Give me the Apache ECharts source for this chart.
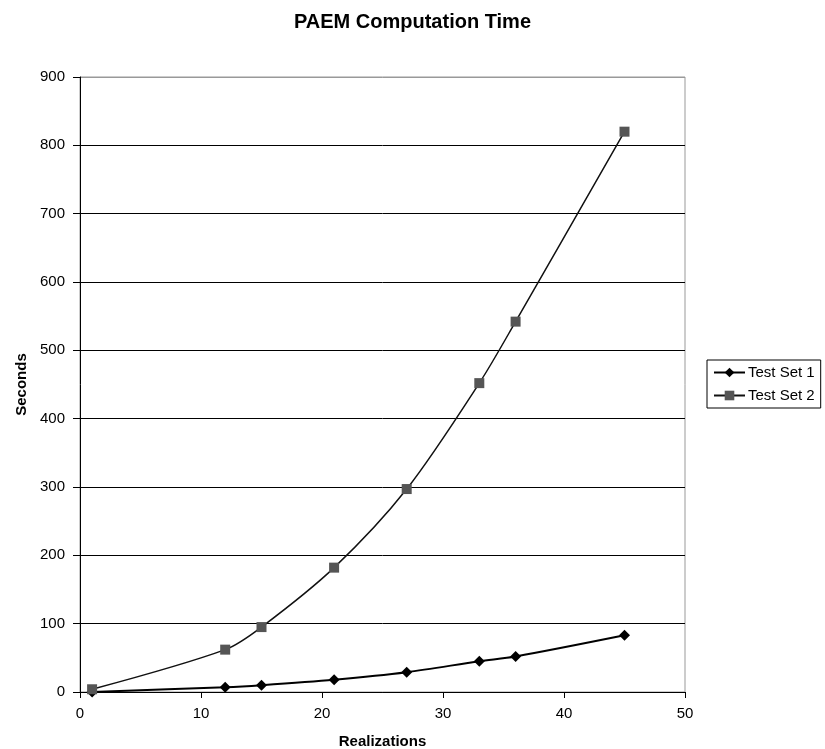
<!DOCTYPE html>
<html><head><meta charset="utf-8">
<script src="https://cdn.jsdelivr.net/npm/echarts@6/dist/echarts.min.js"></script>
<style>html,body{margin:0;padding:0;background:#fff}#c{width:825px;height:749px}</style>
</head><body><div id="c"></div>
<script>
const realizations = [1, 12, 15, 21, 27, 33, 36, 45];
const testSet1 = [0, 7, 10, 18, 29, 45, 52, 83];
const testSet2 = [4, 62, 95, 182, 297, 452, 542, 820];
const seriesNames = ['Test Set 1', 'Test Set 2'];

const font = 'Liberation Sans, Arial, sans-serif';
const gridColors = ['#000', '#000', '#000', '#000', '#000', '#000', '#000', '#000', '#000', '#999'];
const chart = echarts.init(document.getElementById('c'));
chart.setOption({
  backgroundColor: '#fff',
  animation: false,
  title: {
    text: 'PAEM Computation Time', left: 'center', top: 7,
    textStyle: {fontFamily: font, fontSize: 20, fontWeight: 'bold', color: '#000'}
  },
  legend: {
    orient: 'vertical', left: 707, top: 360,
    borderColor: '#000', borderWidth: 1, padding: [5, 6, 5, 6],
    itemGap: 8, itemWidth: 31, itemHeight: 12,
    textStyle: {fontFamily: font, fontSize: 15, color: '#000', padding: [0, 0, 0, -2]},
    data: seriesNames
  },
  grid: {left: 80, right: 140, top: 77, bottom: 57, outerBoundsMode: 'none', containLabel: false,
         show: true, borderColor: '#999', borderWidth: 1},
  xAxis: {
    type: 'value', min: 0, max: 50, interval: 10,
    name: 'Realizations', nameLocation: 'middle', nameGap: 42,
    nameTextStyle: {fontFamily: font, fontSize: 15, fontWeight: 'bold', color: '#000'},
    axisLine: {lineStyle: {color: '#000'}},
    axisTick: {show: true, length: 6, lineStyle: {color: '#000'}},
    axisLabel: {fontFamily: font, fontSize: 15, color: '#000', margin: 14},
    splitLine: {show: false}
  },
  yAxis: {
    type: 'value', min: 0, max: 900, interval: 100,
    name: 'Seconds', nameLocation: 'middle', nameGap: 50, nameRotate: 90,
    nameTextStyle: {fontFamily: font, fontSize: 15, fontWeight: 'bold', color: '#000'},
    axisLine: {show: true, lineStyle: {color: '#000'}},
    axisTick: {show: true, length: 7, lineStyle: {color: '#000'}},
    axisLabel: {fontFamily: font, fontSize: 15, color: '#000', margin: 15},
    splitLine: {show: true, lineStyle: {color: gridColors, width: 1}}
  },
  series: [
    {
      name: seriesNames[0], type: 'line', smooth: 0.3,
      data: realizations.map((x, i) => [x, testSet1[i]]),
      symbol: 'diamond', symbolSize: 11,
      lineStyle: {color: '#000', width: 2},
      itemStyle: {color: '#000'}
    },
    {
      name: seriesNames[1], type: 'line', smooth: 0.3,
      data: realizations.map((x, i) => [x, testSet2[i]]),
      symbol: 'rect', symbolSize: 10,
      lineStyle: {color: '#111', width: 1.5},
      itemStyle: {color: '#555'}
    }
  ]
});
</script></body></html>
